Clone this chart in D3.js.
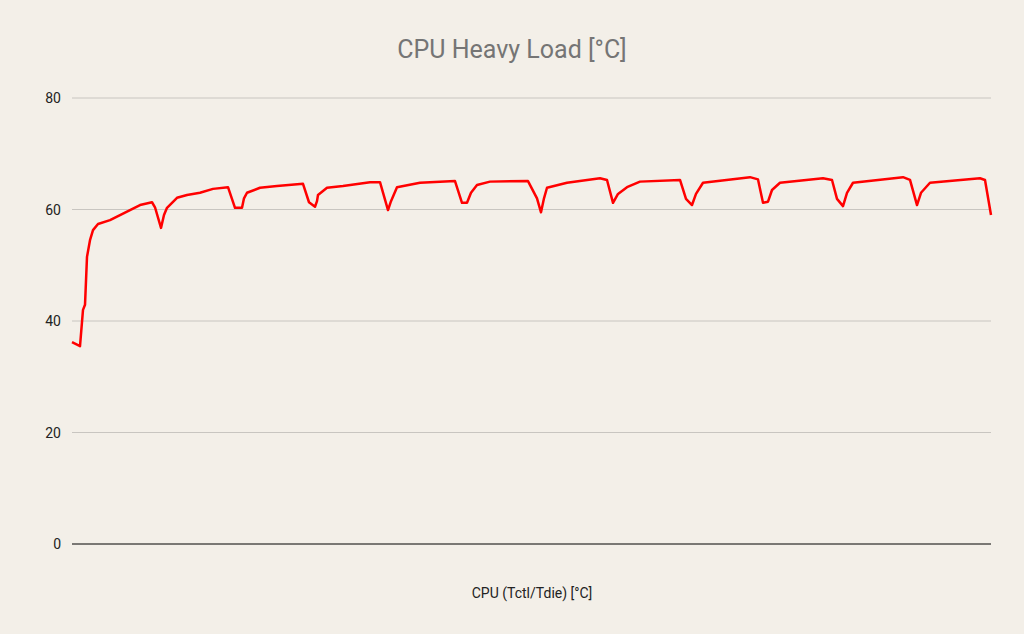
<!DOCTYPE html>
<html><head><meta charset="utf-8">
<script src="https://cdn.jsdelivr.net/npm/d3@7"></script>
<style>body{margin:0;background:#f3efe8;font-family:Roboto,sans-serif}</style>
</head><body><svg id="c" width="1024" height="634"></svg>
<script>
const title = "CPU Heavy Load [°C]";
const seriesName = "CPU (Tctl/Tdie) [°C]";
const yTicks = [0, 20, 40, 60, 80];
const sample = [0,8,11,13,15,18,21,26,38,48,58,68,80,83,89,92,95,105,115,128,141,156,163,170,172,175,188,205,231,237,243,245,246,255,271,298,308,316,319,325,348,383,390,395,399,405,418,456,465,469,472,475,495,528,535,541,546,555,568,608,614,620,624,631,678,686,691,696,700,708,751,760,765,771,775,781,831,838,845,849,858,908,913,919];
const temp = [36.2,35.5,42,42.9,51.5,54.5,56.3,57.4,58.1,59,59.9,60.8,61.3,60.4,56.7,59,60.3,62.1,62.6,63,63.7,64,60.3,60.3,62,63,63.9,64.2,64.6,61.3,60.5,61.5,62.6,63.9,64.2,64.9,64.9,59.9,61.5,64,64.8,65.1,61.2,61.2,63,64.4,65,65.1,62,59.5,62,63.9,64.8,65.6,65.3,61.2,62.8,64,65,65.3,61.9,60.8,62.8,64.8,65.8,65.4,61.2,61.4,63.5,64.8,65.6,65.3,61.9,60.6,63,64.8,65.8,65.3,60.8,63,64.8,65.6,65.3,59];
const svg = d3.select("#c");
const x = d3.scaleLinear().domain([0, 919]).range([72, 991]);
const y = d3.scaleLinear().domain([0, 80]).range([544, 98]);
svg.append("text").attr("x",512).attr("y",58).attr("text-anchor","middle").attr("font-size",25).attr("fill","#757575").text(title);
svg.append("g").selectAll("line").data(yTicks.filter(d=>d>0)).join("line")
  .attr("x1",72).attr("x2",991).attr("y1",d=>y(d)).attr("y2",d=>y(d)).attr("stroke","#c8c5c0").attr("stroke-width",1);
svg.append("line").attr("x1",72).attr("x2",991).attr("y1",y(0)).attr("y2",y(0)).attr("stroke","#000");
svg.append("g").selectAll("text").data(yTicks).join("text")
  .attr("x",61).attr("y",d=>y(d)+5).attr("text-anchor","end").attr("font-size",14).attr("fill","#222").text(d=>d);
const pts = sample.map((s,i)=>[s,temp[i]]);
svg.append("path").datum(pts).attr("fill","none").attr("stroke","#ff0000").attr("stroke-width",2.5).attr("stroke-linejoin","round")
  .attr("d", d3.line().x(d=>x(d[0])).y(d=>y(d[1])));
svg.append("text").attr("x",532).attr("y",598).attr("text-anchor","middle").attr("font-size",14).attr("fill","#222").text(seriesName);
</script></body></html>
